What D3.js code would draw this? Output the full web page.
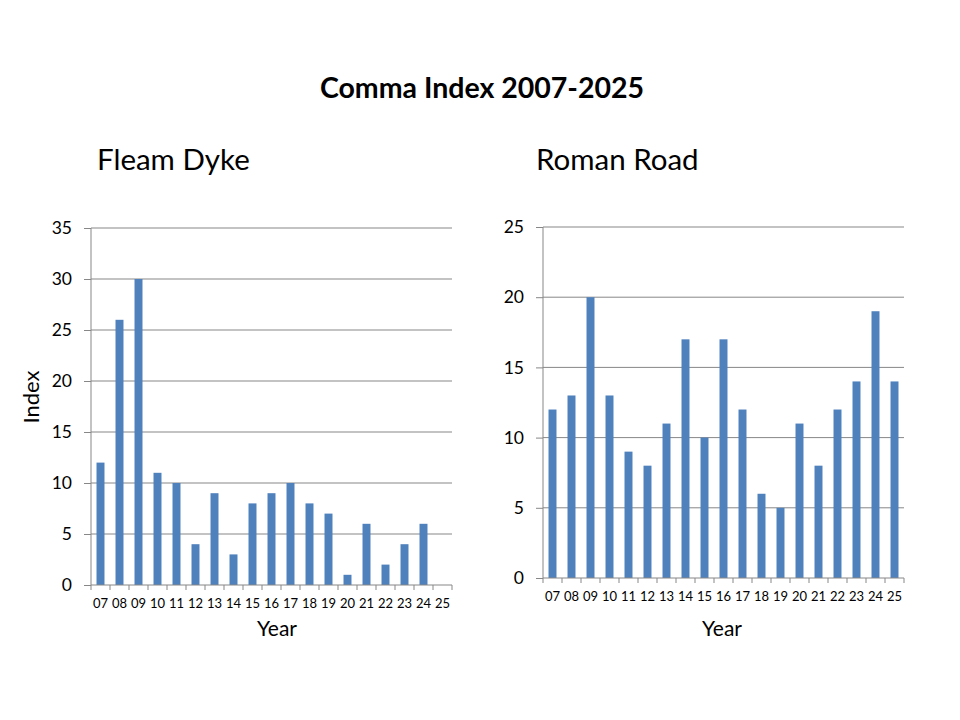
<!DOCTYPE html>
<html><head><meta charset="utf-8">
<script src="https://cdn.jsdelivr.net/npm/d3@7"></script>
<style>body{margin:0;background:#fff;} text{font-family:Lato,"Open Sans",sans-serif;}</style>
</head><body><svg id="c" width="960" height="720"></svg>
<script>
const years = ["07","08","09","10","11","12","13","14","15","16","17","18","19","20","21","22","23","24","25"];
const fleamDyke = [12,26,30,11,10,4,9,3,8,9,10,8,7,1,6,2,4,6,null];
const romanRoad = [12,13,20,13,9,8,11,17,10,17,12,6,5,11,8,12,14,19,14];
const fleamTicks = [0,5,10,15,20,25,30,35];
const romanTicks = [0,5,10,15,20,25];
const title = "Comma Index 2007-2025";

const svg = d3.select("#c");
svg.append("rect").attr("width",960).attr("height",720).attr("fill","#fff");
svg.append("text").attr("x",482).attr("y",98).attr("text-anchor","middle")
  .attr("font-size",28.5).attr("font-weight","bold").text(title);

function panel(cfg){
  const g = svg.append("g");
  const xb = d3.scaleBand().domain(years).range([cfg.x0,cfg.x1]);
  const y = d3.scaleLinear().domain([0,d3.max(cfg.ticks)]).range([cfg.y0,cfg.y1]);
  // gridlines
  g.selectAll(".grid").data(cfg.ticks.filter(t=>t>0)).join("line")
    .attr("x1",cfg.x0).attr("x2",cfg.x1).attr("y1",d=>y(d)).attr("y2",d=>y(d))
    .attr("stroke","#878787").attr("stroke-width",1);
  // bars
  g.selectAll(".bar").data(years.map((k,i)=>({k,v:cfg.data[i]})).filter(d=>d.v!=null)).join("rect")
    .attr("x",d=>xb(d.k)+xb.bandwidth()/2-xb.bandwidth()*0.21).attr("width",xb.bandwidth()*0.42)
    .attr("y",d=>y(d.v)).attr("height",d=>y(0)-y(d.v)).attr("fill","#4F81BD");
  // y axis
  const ya = d3.axisLeft(y).tickValues(cfg.ticks).tickSize(7).tickPadding(12);
  const yg = g.append("g").attr("transform",`translate(${cfg.x0},0)`).call(ya);
  yg.selectAll("text").attr("font-size",17.5).attr("fill","#000").attr("font-family","Lato,'Open Sans',sans-serif");
  yg.selectAll("line,path").attr("stroke","#878787");
  yg.select(".domain").attr("d",`M0,${cfg.y0}V${cfg.y1}`);
  // x axis
  const xa = d3.axisBottom(xb).tickSize(0).tickPadding(14);
  const xg = g.append("g").attr("transform",`translate(0,${cfg.y0})`).call(xa);
  xg.selectAll("text").attr("font-size",13).attr("fill","#000").attr("font-family","Lato,'Open Sans',sans-serif");
  xg.select(".domain").attr("stroke","#878787").attr("d",`M${cfg.x0},0H${cfg.x1}`);
  // boundary ticks
  const bounds = years.map(k=>xb(k)).concat([cfg.x1]);
  g.selectAll(".bt").data(bounds).join("line")
    .attr("x1",d=>d).attr("x2",d=>d).attr("y1",cfg.y0).attr("y2",cfg.y0+5).attr("stroke","#878787");
  g.append("text").attr("x",cfg.yearX).attr("y",636).attr("text-anchor","middle")
    .attr("font-size",21).text("Year");
  g.append("text").attr("x",cfg.tx).attr("y",170).attr("font-size",29.5).text(cfg.name);
}

panel({x0:91,x1:452,y0:585,y1:228,ticks:fleamTicks,data:fleamDyke,tx:97,yearX:277,name:"Fleam Dyke"});
panel({x0:543,x1:904,y0:578,y1:227,ticks:romanTicks,data:romanRoad,tx:536,yearX:722,name:"Roman Road"});

svg.append("text").attr("transform","translate(39,397) rotate(-90)").attr("text-anchor","middle")
  .attr("font-size",22).text("Index");
</script></body></html>
